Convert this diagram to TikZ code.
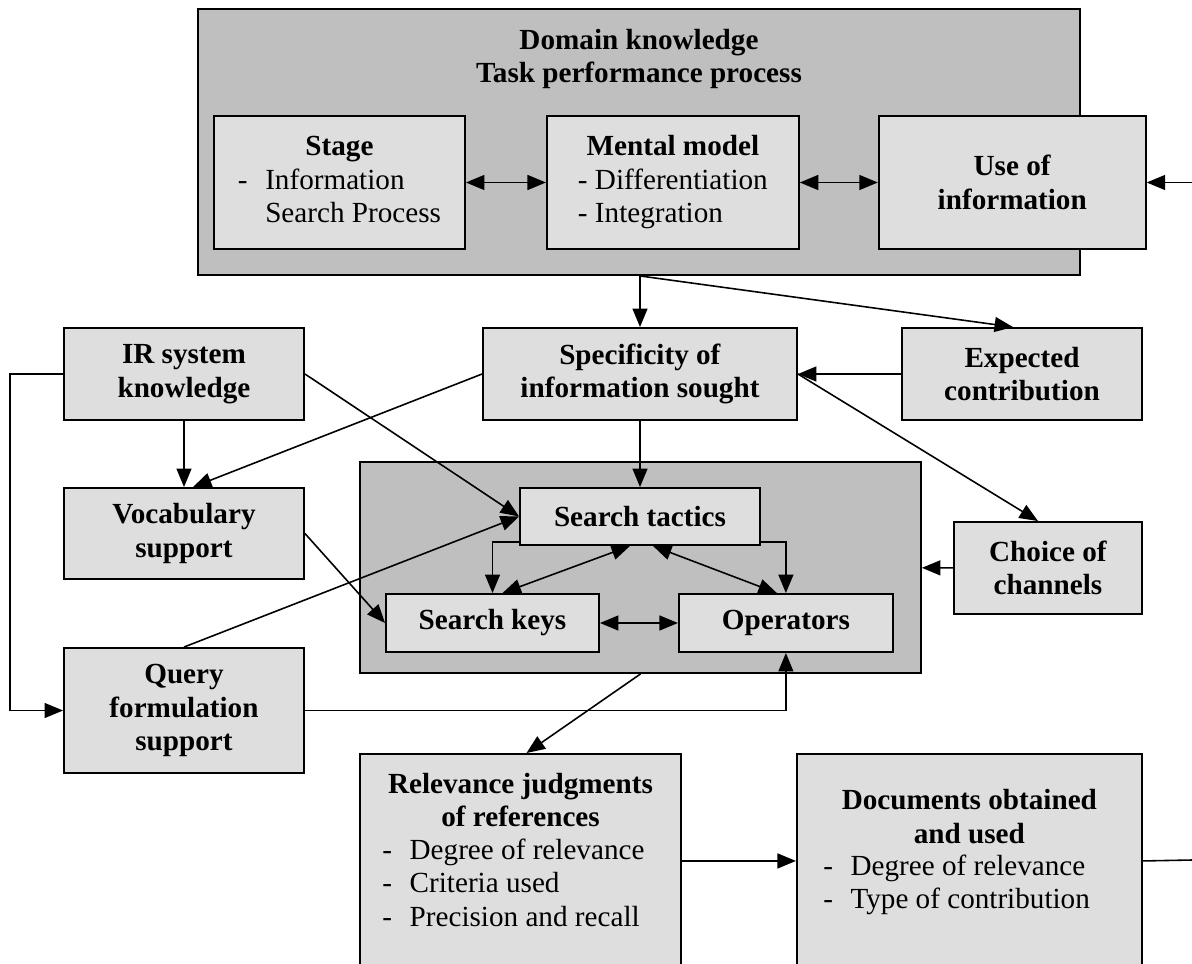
\documentclass[tikz,border=0pt]{standalone}
\usepackage{fontspec}
\setmainfont{Liberation Serif}
\usetikzlibrary{arrows.meta,positioning}
\definecolor{boxgray}{gray}{0.87}
\definecolor{groupgray}{gray}{0.75}

\begin{document}
\begin{tikzpicture}[x=0.02cm, y=-0.02cm,
  every node/.style={font=\fontsize{16.6}{19}\selectfont},
  box/.style={draw, line width=1.1pt, fill=boxgray, align=center, inner sep=0pt},
  groupbox/.style={draw, line width=1.1pt, fill=groupgray, inner sep=0pt},
  link/.style={line width=0.9pt, -{Triangle[length=10.5pt,width=8.5pt]}},
  twoway/.style={line width=0.9pt, {Triangle[length=10.5pt,width=8.5pt]}-{Triangle[length=10.5pt,width=8.5pt]}},
  elbow/.style={link, line width=0.7pt}]
\useasboundingbox (0,0) rectangle (1192,963);
\clip (0,0) rectangle (1192,963);

% domain knowledge
\node[groupbox, minimum width=17.64cm, minimum height=5.32cm] (domain) at (639,142) {};
\node[align=center] (domaintitle) at (639,59) {\textbf{Domain knowledge}\\\textbf{Task performance process}};
\node[box, minimum width=5.02cm, minimum height=2.66cm] (stage) at (339.5,182.5)
  {\begin{tabular}{@{}l@{\hspace{10pt}}l@{}}\multicolumn{2}{@{}c@{}}{\textbf{Stage}}\\ - & Information\\ & Search Process\end{tabular}};
\node[box, minimum width=5.04cm, minimum height=2.66cm, right=1.6cm of stage] (mental)
  {\begin{tabular}{@{}l@{}}\multicolumn{1}{@{}c@{}}{\textbf{Mental model}}\\ - Differentiation\\ - Integration\end{tabular}};
\node[box, minimum width=5.34cm, minimum height=2.66cm, right=1.56cm of mental] (use) {\textbf{Use of}\\\textbf{information}};
\coordinate (usein) at (1192,182.5);

% middle
\node[box, minimum width=4.8cm, minimum height=1.84cm] (irk) at (184,374) {\textbf{IR system}\\\textbf{knowledge}};
\node[box, minimum width=6.28cm, minimum height=1.84cm] (spec) at (640,374) {\textbf{Specificity of}\\\textbf{information sought}};
\node[box, minimum width=4.8cm, minimum height=1.84cm] (expect) at (1022,374) {\textbf{Expected}\\\textbf{contribution}};
\node[box, minimum width=4.8cm, minimum height=1.82cm] (vocab) at (184,533.5) {\textbf{Vocabulary}\\\textbf{support}};
\node[box, minimum width=4.8cm, minimum height=2.5cm] (query) at (184,710.5) {\textbf{Query}\\\textbf{formulation}\\\textbf{support}};
\node[box, minimum width=3.76cm, minimum height=1.84cm] (choice) at (1048,568) {\textbf{Choice of}\\\textbf{channels}};

% search
\node[groupbox, minimum width=11.22cm, minimum height=4.22cm] (search) at (640.5,567.5) {};
\node[box, minimum width=4.8cm, minimum height=1.14cm] (tactics) at (640,516.5) {\textbf{Search tactics}};
\node[box, minimum width=4.26cm, minimum height=1.16cm] (keys) at (492.5,623) {\textbf{Search keys}};
\node[box, minimum width=4.28cm, minimum height=1.16cm, right=1.56cm of keys] (ops) {\textbf{Operators}};

% bottom
\node[box, minimum width=6.42cm, minimum height=4.28cm, anchor=north] (relev) at (520.5,753) {};
\node[align=center] (relevhead) at ([yshift=-0.94cm]relev.north) {\textbf{Relevance judgments}\\\textbf{of references}};
\node[anchor=west, inner sep=0pt] (relevlist) at ([xshift=0.46cm,yshift=-2.66cm]relev.north west)
  {\begin{tabular}{@{}l@{\hspace{10pt}}l@{}} - & Degree of relevance\\ - & Criteria used\\ - & Precision and recall\end{tabular}};
\node[box, minimum width=6.9cm, minimum height=4.28cm, right=2.28cm of relev] (docs) {};
\node[align=center] (docshead) at ([yshift=-1.27cm]docs.north) {\textbf{Documents obtained}\\\textbf{and used}};
\node[anchor=west, inner sep=0pt] (docslist) at ([xshift=0.54cm,yshift=-2.65cm]docs.north west)
  {\begin{tabular}{@{}l@{\hspace{10pt}}l@{}} - & Degree of relevance\\ - & Type of contribution\end{tabular}};
\coordinate (docsout) at (1192,860);

\path[twoway]
  (stage) edge (mental)
  (mental) edge (use)
  (keys) edge (ops)
  ([xshift=0.2cm]keys.north) edge ([xshift=-0.2cm]tactics.south)
  ([xshift=0.26cm]tactics.south) edge ([xshift=-0.18cm]ops.north);

\path[link]
  (usein) edge (use.east)
  (domain.south -| spec.north) edge (spec)
  (domain.south -| spec.north) edge ([xshift=-0.18cm]expect.north)
  (expect) edge (spec)
  (spec.east) edge ([xshift=-0.2cm]choice.north)
  (spec.west) edge ([xshift=0.18cm]vocab.north)
  (irk) edge (vocab)
  (irk.east) edge (tactics.west)
  (query.north) edge (tactics.west)
  (vocab.east) edge (keys.west)
  (spec) edge (tactics)
  (choice) edge (search)
  (search.south) edge ([xshift=0.12cm]relev.north)
  (relev) edge (docs);

\draw[line width=0.9pt] (docs.east) -- (docsout);
\draw[elbow] (irk.west) -- ++(-53,0) |- (query.west);
\draw[elbow] (query.east) -| (ops.south);
\draw[link] ([yshift=0.08cm]tactics.south west) -| (keys.north);
\draw[link] ([yshift=0.08cm]tactics.south east) -| (ops.north);
\end{tikzpicture}
\end{document}
